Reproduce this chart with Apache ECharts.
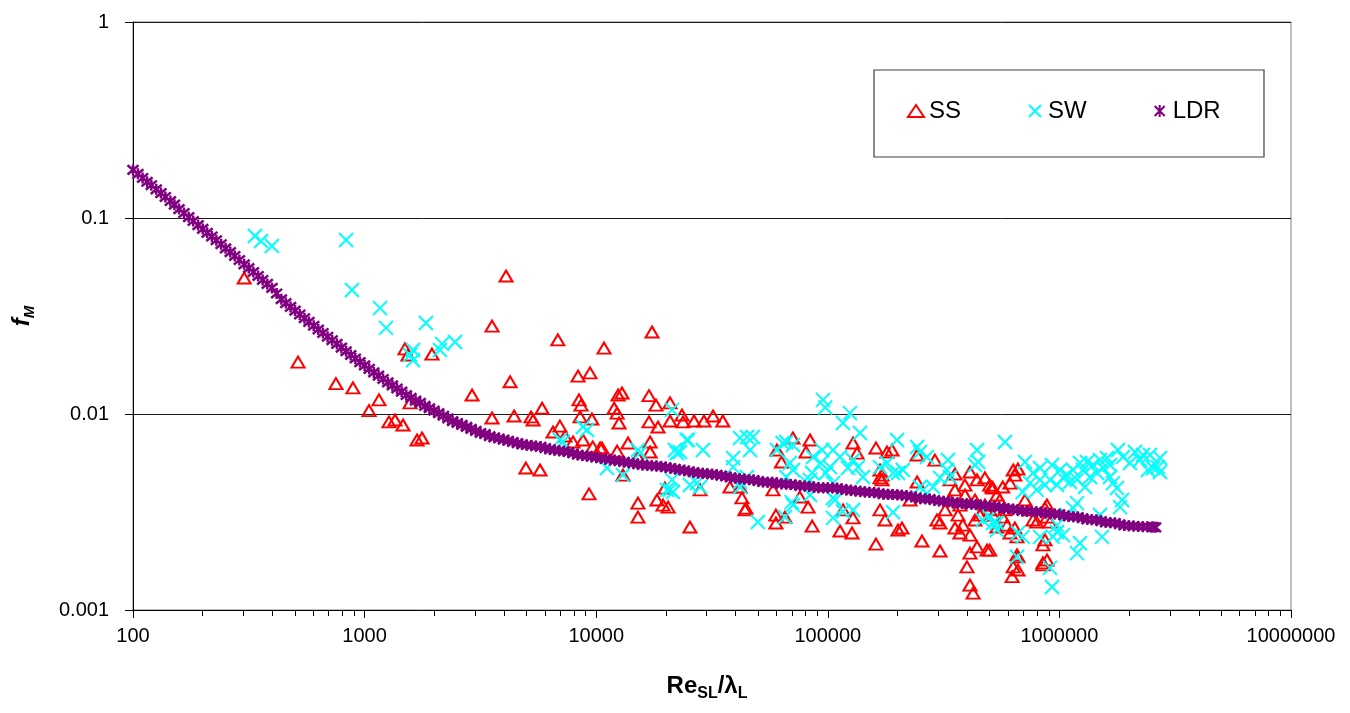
<!DOCTYPE html>
<html>
<head>
<meta charset="utf-8">
<script src="https://cdn.jsdelivr.net/npm/echarts@6/dist/echarts.min.js"></script>
<style>
html,body{margin:0;padding:0;background:#fff;}
#chart{width:1350px;height:713px;}
</style>
</head>
<body>
<div id="chart"></div>
<script>
// ---------------- data ----------------
const seriesNames = ['SS', 'SW', 'LDR'];
const xTickLabels = ['100', '1000', '10000', '100000', '1000000', '10000000'];
const yTickLabels = ['0.001', '0.01', '0.1', '1'];
const xMinorTickValues = [200,300,400,500,600,700,800,900,2000,3000,4000,5000,6000,7000,8000,9000,
  20000,30000,40000,50000,60000,70000,80000,90000,200000,300000,400000,500000,600000,700000,800000,900000,
  2000000,3000000,4000000,5000000,6000000,7000000,8000000,9000000];

const ssData = [[302,0.0494],[516,0.0184],[752,0.0143],[891,0.0136],[1045,0.0104],[1154,0.0118],[1274,0.00911],[1353,0.00932],[1465,0.00879],[1494,0.0215],[1539,0.0200],[1571,0.0114],[1684,0.00737],[1770,0.00754],[1954,0.0202],[2910,0.0125],[3550,0.0281],[3550,0.00954],[4080,0.0506],[6830,0.0239],[4250,0.0146],[4420,0.00977],[5230,0.00966],[5340,0.00932],[5840,0.0107],[8350,0.0156],[9400,0.0162],[8430,0.0118],[8600,0.0111],[8520,0.00966],[9580,0.00943],[6510,0.00809],[6970,0.00868],[7330,0.00772],[4970,0.0053],[5720,0.00518],[9310,0.00391],[7940,0.0072],[8770,0.00737],[9660,0.00679],
[17420,0.0262],[10810,0.0217],[12430,0.0125],[12920,0.0128],[11950,0.0107],[12310,0.0101],[12550,0.009],[16900,0.0124],[18120,0.0111],[16900,0.00911],[18490,0.00858],[20840,0.0114],[20840,0.00921],[23460,0.00988],[23700,0.00911],[26450,0.00921],[29200,0.00921],[31950,0.00977],[35200,0.00921],[10590,0.00671],[12310,0.00647],[13720,0.00711],[15150,0.00603],[17080,0.0072],[17080,0.0064],[15150,0.00351],[15150,0.00298],[18300,0.00364],[19430,0.00343],[20440,0.00335],[19800,0.00419],[25400,0.00265],[28100,0.0041],[37800,0.00424],[42600,0.00373],[44300,0.00331],[58000,0.0041],[59700,0.00305],[59700,0.00278],[65300,0.00298],[70700,0.00754],[83800,0.00737],[80500,0.0064],[60300,0.00655],[63100,0.00569],[82200,0.00335],[85600,0.00268],
[112900,0.00253],[127200,0.00247],[116300,0.00324],[128500,0.00295],[161400,0.00217],[128500,0.00711],[133700,0.00632],[161400,0.00671],[180100,0.0064],[189300,0.00655],[168000,0.00518],[171500,0.00461],[168000,0.00324],[176600,0.00288],[200900,0.00256],[243000,0.00618],[290000,0.00582],[411000,0.00506],[441000,0.00461],[511000,0.00424],[171500,0.00488],[168000,0.00472],[209000,0.00262],[255000,0.00225],[305000,0.002],[226400,0.00364],[243000,0.0045],[296000,0.00288],[305000,0.00278],[372000,0.00247],[411000,0.00241],[441000,0.0021],[487000,0.00202],[411000,0.00195],[399000,0.00166],[411000,0.00134],[424000,0.00122],[884000,0.00343],[866000,0.00228],[849000,0.00215],[884000,0.0018],[849000,0.0017],[632000,0.00518],[662000,0.00524],[642000,0.00488],[656000,0.00191],[632000,0.00166],[625000,0.00148],[662000,0.0016],[594000,0.00271],[642000,0.00262],[500000,0.00434],[569000,0.00424],[537000,0.00386],[798000,0.00281],[884000,0.00298],[910000,0.00281],[612000,0.00444],[517000,0.00419],[866000,0.00331],[769000,0.00288],[537000,0.00265],[612000,0.00247],[656000,0.00236],[500000,0.00202],[849000,0.00174],[662000,0.00187],[517000,0.00305],[569000,0.00298],[13050,0.00488],[10390,0.00671],[41800,0.00424],[43900,0.00324],[75700,0.00377],[354000,0.0041],[372000,0.00343],[391000,0.00386],[432000,0.00364],[477000,0.00343],[337000,0.00461],[321000,0.00324],[365000,0.00305],[454000,0.00305],[383000,0.00271],[337000,0.00364],[710000,0.00364],[747000,0.00324],[354000,0.00494],[391000,0.00434],[477000,0.00472],[553000,0.00364],[500000,0.00324],[582000,0.00324],[432000,0.00288],[354000,0.00262]];

const swData = [[336,0.0809],[357,0.0763],[398,0.072],[832,0.0772],[882,0.0429],[1166,0.0347],[1237,0.0275],[1840,0.0291],[1618,0.0212],[1571,0.02],[1618,0.0188],[2160,0.0228],[2115,0.0212],[2457,0.0233],[7180,0.0072],[8770,0.00858],[9130,0.00828],[21250,0.0105],[6970,0.00737],[15150,0.00655],[15450,0.00632],[11130,0.0053],[13050,0.00488],[21870,0.00655],[22320,0.00632],[24900,0.00737],[28900,0.00655],[21250,0.00461],[20200,0.0041],[25400,0.00434],[27200,0.00444],[28100,0.00424],[41800,0.00754],[44800,0.00763],[46200,0.00655],[39000,0.00596],[41800,0.00424],[39000,0.00536],[49900,0.00281],[60300,0.00655],[63800,0.00711],[70700,0.00695],[68600,0.00562],[70700,0.00518],[70700,0.00343],[65300,0.00298],[81400,0.00444],[85600,0.005],[95300,0.0118],[97500,0.0108],[116300,0.009],[124700,0.0101],[137700,0.008],[105300,0.00655],[112900,0.00603],[102200,0.00536],[93300,0.00562],[98200,0.005],[105300,0.00444],[105300,0.00373],[105300,0.00295],[116300,0.00318],[128500,0.00324],[168000,0.00536],[180100,0.00562],[191300,0.005],[199000,0.00737],[191300,0.00315],[23000,0.0064],[24600,0.00737],[20840,0.0041],[21460,0.004],[47500,0.00763],[41800,0.0045],[44800,0.00477],[66200,0.0072],[66200,0.00477],[69800,0.00355],[86400,0.00603],[94500,0.00655],[83800,0.00461],[83800,0.00386],[122200,0.0053],[128500,0.00582],[135000,0.00536],[141800,0.00477],[107400,0.00364],[200900,0.005],[211000,0.00518],[243000,0.00679],[250000,0.0064],[268000,0.00603],[250000,0.00424],[258000,0.0041],[330000,0.00582],[327000,0.00518],[337000,0.00477],[305000,0.00472],[441000,0.00655],[446000,0.00569],[432000,0.00549],[285000,0.00424],[466000,0.00288],[517000,0.00278],[537000,0.00256],[582000,0.0072],[929000,0.00549],[769000,0.005],[825000,0.00461],[747000,0.00444],[694000,0.004],[866000,0.00434],[1006000,0.00518],[1078000,0.00488],[1145000,0.00518],[1227000,0.00562],[1316000,0.00569],[1396000,0.00549],[1497000,0.00582],[1605000,0.00596],[976000,0.00434],[1111000,0.0045],[1191000,0.00461],[1356000,0.00477],[1454000,0.005],[1882000,0.00603],[2016000,0.00562],[2297000,0.00618],[2460000,0.00618],[2540000,0.0053],[2230000,0.00582],[1703000,0.00444],[1772000,0.00419],[1654000,0.00477],[1864000,0.00364],[1828000,0.00335],[1497000,0.00305],[1145000,0.00331],[1191000,0.00351],[1078000,0.00305],[976000,0.00271],[976000,0.0025],[1036000,0.00241],[938000,0.00236],[1227000,0.00219],[1191000,0.00195],[1527000,0.00236],[911000,0.00164],[929000,0.00131],[825000,0.00236],[694000,0.00236],[662000,0.00247],[656000,0.00187],[537000,0.00278],[500000,0.00298],[2665000,0.00536],[2720000,0.00506],[911000,0.00461],[1036000,0.00472],[1264000,0.00518],[1543000,0.0053],[1290000,0.00424],[1654000,0.00549],[798000,0.0041],[1790000,0.00655],[2120000,0.0064],[2720000,0.00596],[2410000,0.00518],[825000,0.0053],[710000,0.00569]];

const ldrX = [100,105,110,115,120,126,132,138,145,151,158,166,174,182,191,200,209,219,229,240,251,263,275,288,302,316,331,347,363,380,398,417,437,457,479,501,525,550,575,603,631,661,692,724,759,794,832,871,912,955,1000,1047,1096,1148,1202,1259,1318,1380,1445,1514,1585,1660,1738,1820,1905,1995,2089,2188,2291,2399,2512,2630,2754,2884,3020,3162,3311,3467,3631,3802,3981,4169,4365,4571,4786,5012,5248,5495,5754,6026,6310,6607,6918,7244,7586,7943,8318,8710,9120,9550,10000,10965,12023,13183,14454,15849,17378,19055,20893,22909,25119,27542,30200,33113,36308,39811,43652,47863,52481,57544,63096,69183,75858,83176,91201,100000,109648,120226,131826,144544,158489,173780,190546,208930,229087,251189,275423,301995,331131,363078,398107,436516,478630,524807,575440,630957,691831,758578,831764,912011,1000000,1096478,1202264,1318257,1445440,1584893,1737801,1905461,2089296,2290868,2511886,2600000];
const ldrY = [0.176,0.168,0.160,0.153,0.147,0.140,0.134,0.128,0.122,0.117,0.111,0.106,0.101,0.0965,0.092,0.088,0.084,0.0805,0.077,0.0735,0.070,0.067,0.064,0.061,0.058,0.0555,0.0530,0.0506,0.0483,0.0461,0.0440,0.0412,0.0385,0.0368,0.0352,0.0337,0.0322,0.0308,0.0295,0.0282,0.0270,0.0259,0.0248,0.0238,0.0228,0.0218,0.0209,0.0200,0.0192,0.0184,0.0177,0.0170,0.0163,0.0157,0.0151,0.0145,0.0140,0.0135,0.0130,0.0125,0.0121,0.0117,0.0114,0.0110,0.0107,0.0104,0.0101,0.0098,0.0095,0.0092,0.0090,0.0088,0.0086,0.0084,0.0082,0.0080,0.0079,0.0077,0.0076,0.0075,0.0074,0.0073,0.0072,0.0071,0.0070,0.00695,0.0069,0.00685,0.0068,0.0067,0.0066,0.00655,0.0065,0.00645,0.0064,0.0063,0.0062,0.00615,0.0061,0.00605,0.0060,0.0059,0.0058,0.0057,0.0056,0.0055,0.00545,0.0054,0.0053,0.0052,0.0051,0.0050,0.00495,0.0049,0.0048,0.0047,0.00465,0.0046,0.0045,0.00448,0.0044,0.00437,0.0043,0.00427,0.0042,0.0042,0.00418,0.0041,0.00405,0.0040,0.00398,0.0039,0.00388,0.00385,0.0038,0.0037,0.00368,0.0036,0.00357,0.0035,0.00348,0.00345,0.0034,0.00337,0.0033,0.00327,0.0032,0.00318,0.00315,0.0031,0.00308,0.0030,0.00298,0.0029,0.00288,0.0028,0.00278,0.0027,0.00268,0.00266,0.00265,0.00264];
// additional LDR samples read between the ones above (x > 10000)
const ldrX2 = [10471,11482,12589,13804,15136,16596,18197,19953,21878,23988,26303,28840,31623,34674,38019,41687,45709,50119,54954,60256,66069,72444,79433,87096,95499,104713,114815,125893,138038,151356,165959,181970,199526,218776,239883,263027,288403,316228,346737,380189,416869,457088,501187,549541,602560,660693,724436,794328,870964,954993,1047129,1148154,1258925,1380384,1513561,1659587,1819701,1995262,2187762,2398833,2550000];
const ldrY2 = [0.00595,0.00585,0.00575,0.00565,0.00555,0.00548,0.00543,0.00535,0.00525,0.00515,0.00505,0.00498,0.00493,0.00485,0.00475,0.00468,0.00463,0.00455,0.00449,0.00444,0.00439,0.00434,0.00429,0.00424,0.0042,0.0042,0.00414,0.00408,0.00403,0.00399,0.00394,0.00389,0.00387,0.00383,0.00375,0.00369,0.00364,0.00359,0.00354,0.00349,0.00347,0.00343,0.00339,0.00334,0.00329,0.00324,0.00319,0.00317,0.00313,0.00309,0.00304,0.00299,0.00294,0.00289,0.00284,0.00279,0.00274,0.00269,0.00267,0.00266,0.00265];

// ---------------- chart ----------------
const FONT = "'Liberation Sans', Arial, sans-serif";
const ldrData = ldrX.map((x, i) => [x, ldrY[i]]).concat(ldrX2.map((x, i) => [x, ldrY2[i]]));
const chart = echarts.init(document.getElementById('chart'), null, {renderer: 'canvas'});

const crossPath = 'path://M0,0L10,10M10,0L0,10';
const starPath = 'path://M0,0L10,10M10,0L0,10M5,-1L5,11';

chart.setOption({
  animation: false,
  backgroundColor: '#ffffff',
  grid: {left: 133, right: 59, top: 22, bottom: 103, show: true, borderColor: '#808080', borderWidth: 1, backgroundColor: 'transparent'},
  xAxis: [{
    type: 'log', logBase: 10, min: 100, max: 10000000,
    axisLine: {show: true, lineStyle: {color: '#000', width: 1}},
    axisTick: {show: true, length: 8, lineStyle: {color: '#000'}},
    axisLabel: {color: '#000', fontSize: 20, fontFamily: FONT, margin: 16,
      formatter: v => xTickLabels[Math.round(Math.log10(v)) - 2]},
    splitLine: {show: false}, minorTick: {show: false}, minorSplitLine: {show: false}
  }, {
    type: 'log', logBase: 10, min: 100, max: 10000000, gridIndex: 0, position: 'bottom',
    axisLine: {show: false},
    axisTick: {show: true, length: 6, lineStyle: {color: '#000'}, customValues: xMinorTickValues},
    axisLabel: {show: false}, splitLine: {show: false}
  }],
  yAxis: [{
    type: 'log', logBase: 10, min: 0.001, max: 1,
    axisLine: {show: true, lineStyle: {color: '#000', width: 1}},
    axisTick: {show: true, length: 8, lineStyle: {color: '#000'}},
    axisLabel: {color: '#000', fontSize: 20, fontFamily: FONT, margin: 24,
      formatter: v => yTickLabels[Math.round(Math.log10(v)) + 3]},
    splitLine: {show: true, lineStyle: {color: '#1a1a1a', width: 1}},
    minorTick: {show: false}
  }],
  legend: {
    left: 907, top: 99, padding: 0, itemGap: 67, itemWidth: 16, itemHeight: 12,
    textStyle: {fontSize: 24, fontFamily: FONT, color: '#000'},
    data: seriesNames
  },
  graphic: [
    {type: 'rect', shape: {x: 874, y: 70, width: 390, height: 87}, style: {fill: 'none', stroke: '#404040', lineWidth: 1.2}, z: 5},
    {type: 'text', x: 707, y: 686, z: 10, style: {
      text: '{a|Re}{b|SL}{a|/λ}{b|L}', align: 'center', verticalAlign: 'middle',
      rich: {
        a: {fontSize: 24, fontWeight: 'bold', fontFamily: FONT, fill: '#000', lineHeight: 32, verticalAlign: 'middle'},
        b: {fontSize: 16, fontWeight: 'bold', fontFamily: FONT, fill: '#000', lineHeight: 16, verticalAlign: 'bottom'}
      }}},
    {type: 'text', x: 22, y: 316, rotation: Math.PI / 2, z: 10, style: {
      text: '{a|f}{b|M}', align: 'center', verticalAlign: 'middle',
      rich: {
        a: {fontSize: 24, fontWeight: 'bold', fontStyle: 'italic', fontFamily: FONT, fill: '#000', lineHeight: 30, verticalAlign: 'middle'},
        b: {fontSize: 15, fontWeight: 'bold', fontStyle: 'italic', fontFamily: FONT, fill: '#000', lineHeight: 15, verticalAlign: 'bottom'}
      }}}
  ],
  series: [
    {name: 'SS', type: 'scatter', data: ssData, symbol: 'triangle', symbolSize: [13, 11],
      itemStyle: {color: 'rgba(255,255,255,0)', borderColor: '#ff0000', borderWidth: 2, opacity: 1}},
    {name: 'SW', type: 'scatter', data: swData, symbol: crossPath, symbolSize: 14,
      itemStyle: {color: 'rgba(255,255,255,0)', borderColor: '#00ffff', borderWidth: 2, opacity: 1}},
    {name: 'LDR', type: 'scatter', data: ldrData, symbol: starPath, symbolSize: 11,
      itemStyle: {color: 'rgba(255,255,255,0)', borderColor: '#800080', borderWidth: 2.5, opacity: 1}}
  ]
});
</script>
</body>
</html>
